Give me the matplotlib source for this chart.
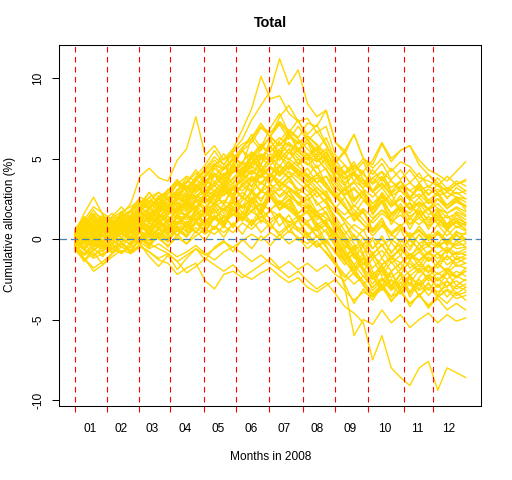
import matplotlib
matplotlib.use("Agg")
import matplotlib.pyplot as plt

# -----------------------------
# Data: cumulative allocation (%),
# one value every 6 trading days (day 1 .. 253)
# -----------------------------
days = list(range(1, 254, 6))

month_labels = ["01", "02", "03", "04", "05", "06", "07", "08", "09", "10", "11", "12"]
month_starts = [1, 22, 42, 62, 84, 105, 126, 148, 169, 190, 213, 232]
last_day = 253

s01 = [0.2, 0.9, 1.5, 1.1, 0.8, 1.3, 1.8, 2.6, 2.3, 2.9, 2.5, 3.4, 3.9, 3.6, 4.4, 5.1, 4.6, 5.5, 6.2, 7.4, 8.3, 9.2, 11.2, 9.6, 10.5, 8.4, 7.6, 8.0, 6.0, 5.3, 6.5, 5.0, 4.6, 5.9, 4.8, 5.5, 5.8, 4.9, 4.3, 4.0, 3.6, 4.2, 4.8]
s02 = [0.1, 0.6, 1.2, 0.9, 0.7, 1.1, 1.4, 1.9, 2.4, 2.1, 2.6, 3.0, 3.5, 4.1, 3.8, 4.6, 5.0, 5.6, 6.8, 8.1, 10.1, 8.7, 8.9, 7.8, 7.3, 7.5, 6.6, 7.0, 5.2, 4.6, 4.0, 3.4, 3.0, 3.5, 2.8, 3.3, 3.0, 2.6, 3.1, 2.7, 2.9, 3.4, 3.7]
s03 = [-0.2, 0.5, 1.0, 1.4, 1.0, 1.5, 2.2, 3.9, 4.4, 3.8, 3.6, 4.9, 5.6, 7.6, 5.2, 5.8, 4.9, 5.4, 5.9, 6.2, 5.5, 6.4, 5.8, 6.6, 5.5, 5.0, 5.6, 4.8, 4.2, 3.5, 4.0, 3.1, 2.6, 3.2, 2.4, 1.8, 2.2, 1.5, 1.9, 1.2, 0.8, 1.1, 0.6]
s04 = [0.3, 0.8, 0.5, 1.0, 0.8, 1.2, 1.0, 1.6, 1.4, 2.0, 1.8, 2.6, 2.4, 3.1, 3.6, 3.3, 4.0, 4.5, 4.2, 5.0, 5.8, 5.4, 6.1, 6.8, 6.3, 7.2, 7.0, 8.0, 6.0, 5.5, 6.5, 5.0, 4.4, 5.0, 4.2, 4.8, 4.5, 3.8, 3.6, 3.3, 3.0, 3.4, 3.0]
s05 = [0.0, 0.4, 0.9, 0.6, 0.3, 0.8, 1.1, 1.5, 1.9, 1.6, 2.1, 2.5, 2.2, 2.9, 3.3, 3.0, 3.6, 3.2, 3.9, 4.5, 4.1, 4.8, 5.3, 4.9, 5.6, 5.2, 4.8, 5.4, 4.6, 4.0, 4.5, 4.2, 4.9, 6.0, 5.0, 5.5, 5.8, 4.6, 4.0, 3.5, 2.9, 2.6, 2.5]
s06 = [0.4, 1.2, 2.0, 1.6, 1.2, 1.5, 1.3, 2.0, 2.6, 2.9, 2.4, 3.0, 3.6, 3.3, 4.0, 4.6, 4.3, 4.9, 5.5, 6.0, 6.9, 6.4, 7.2, 6.5, 6.0, 6.4, 5.8, 5.1, 4.5, 3.8, 4.2, 3.6, 2.9, 3.4, 2.7, 3.0, 2.4, 2.8, 2.2, 2.5, 1.9, 2.3, 2.0]
s07 = [-0.3, 0.3, 0.7, 0.2, 0.5, 0.9, 0.6, 1.2, 1.6, 1.3, 1.9, 2.3, 2.0, 2.7, 3.1, 2.6, 3.3, 3.8, 4.4, 4.0, 4.7, 5.3, 4.9, 5.6, 5.0, 4.6, 5.1, 4.3, 3.6, 2.8, 3.2, 2.5, 1.8, 2.4, 1.6, 2.0, 1.4, 1.8, 1.2, 1.5, 0.9, 1.3, 1.0]
s08 = [0.5, 1.0, 0.7, 1.2, 0.9, 1.4, 1.7, 2.2, 1.9, 2.5, 2.8, 3.4, 3.0, 3.7, 4.2, 3.9, 4.5, 4.1, 4.8, 5.4, 5.0, 5.7, 6.3, 5.8, 5.2, 4.7, 4.1, 3.5, 2.6, 2.0, 1.4, 0.9, 0.2, 0.8, 0.3, -0.2, 0.4, -0.3, 0.1, -0.4, -0.1, -0.6, -0.5]
s09 = [-0.1, 0.2, -0.3, 0.4, 0.6, 0.3, 0.8, 1.1, 0.8, 1.4, 1.2, 1.8, 2.3, 2.0, 2.6, 3.0, 2.7, 3.2, 3.7, 3.3, 4.0, 4.5, 4.2, 4.8, 4.3, 3.8, 3.2, 2.7, 1.9, 1.2, 0.6, 0.1, -0.6, 0.0, -0.8, -0.3, -1.0, -0.6, -1.3, -0.9, -1.6, -1.2, -1.5]
s10 = [0.2, -0.3, 0.1, 0.5, 0.2, 0.6, 0.9, 1.3, 1.0, 1.5, 1.2, 1.7, 1.4, 2.0, 2.5, 2.1, 2.8, 3.2, 3.6, 4.2, 3.8, 4.4, 3.9, 4.5, 4.0, 3.3, 2.9, 2.2, 1.4, 0.5, -0.3, -1.0, -1.8, -1.2, -2.0, -1.5, -2.3, -1.8, -2.6, -2.1, -2.5, -2.0, -2.3]
s11 = [-0.4, -0.9, -0.5, -0.2, 0.3, 0.1, 0.5, 0.9, 1.3, 0.9, 1.5, 1.9, 2.4, 2.0, 2.7, 3.3, 2.9, 3.5, 4.1, 3.6, 4.3, 3.9, 4.6, 4.1, 3.5, 3.0, 2.3, 1.6, 0.8, -0.2, -1.1, -1.8, -2.5, -2.0, -2.9, -3.4, -2.8, -3.5, -3.0, -3.6, -3.1, -3.5, -3.3]
s12 = [0.1, 0.5, 0.2, -0.2, 0.3, 0.7, 0.4, 0.9, 1.4, 1.1, 1.6, 2.0, 1.7, 2.3, 2.8, 2.4, 3.0, 2.6, 3.3, 3.8, 3.4, 4.0, 3.5, 3.1, 2.6, 2.0, 1.5, 0.8, 0.0, -1.0, -2.0, -2.6, -3.4, -2.8, -3.6, -3.2, -4.0, -3.5, -4.2, -3.7, -4.4, -4.0, -4.4]
s13 = [-0.6, -1.0, -0.7, -0.3, -0.6, -0.2, 0.1, 0.5, 0.2, 0.7, 0.4, 0.9, 1.4, 1.1, 1.6, 1.2, 1.9, 2.3, 1.9, 2.5, 3.0, 2.6, 2.2, 1.8, 1.3, 0.8, 0.2, -0.5, -1.3, -3.0, -6.0, -5.0, -5.3, -4.4, -5.2, -4.7, -5.5, -5.0, -4.6, -5.2, -4.7, -5.1, -4.9]
s14 = [-0.3, -0.6, -1.0, -0.7, -0.4, -0.8, -0.5, -0.2, -0.6, -0.3, -0.7, -1.1, -0.8, -0.4, -0.9, -1.3, -0.8, -0.5, -0.9, -1.4, -1.0, -1.5, -1.9, -2.4, -2.0, -2.6, -3.1, -2.7, -3.4, -4.2, -4.6, -5.2, -7.5, -6.0, -8.0, -8.6, -9.1, -8.0, -7.6, -9.4, -8.0, -8.3, -8.6]
s15 = [-0.5, -1.2, -2.0, -1.6, -1.1, -0.7, -0.9, -0.5, -0.8, -1.3, -1.5, -2.2, -1.8, -1.5, -2.6, -3.1, -2.2, -2.0, -2.4, -2.0, -1.6, -1.2, -1.8, -1.4, -1.9, -1.5, -2.0, -1.6, -2.2, -2.6, -2.1, -2.8, -2.3, -3.0, -2.5, -3.1, -2.7, -3.2, -2.8, -3.3, -2.9, -2.6, -3.0]
s16 = [-0.2, -0.7, -1.2, -0.9, -0.6, -0.9, -0.4, 0.1, -0.3, -0.6, -0.9, -1.4, -2.1, -1.7, -1.2, -1.6, -2.0, -1.6, -2.2, -2.5, -2.1, -1.8, -2.3, -2.7, -2.4, -3.0, -3.3, -2.9, -2.5, -3.2, -3.8, -3.3, -3.6, -3.1, -2.6, -3.0, -2.4, -2.8, -2.2, -2.6, -2.1, -2.4, -2.0]
s17 = [0.1, 0.4, 0.0, 0.3, 0.0, 0.4, 0.7, 1.0, 0.6, 1.1, 0.8, 1.3, 1.0, 1.5, 1.9, 1.6, 2.1, 1.8, 2.4, 2.9, 2.5, 3.1, 2.7, 3.2, 2.8, 2.4, 2.9, 2.3, 1.7, 1.2, 1.6, 0.9, 0.4, 0.9, 0.3, 0.7, 0.1, 0.5, -0.1, 0.3, -0.2, 0.2, 0.0]
s18 = [-0.4, 0.0, 0.5, 0.2, -0.1, 0.3, 0.1, 0.6, 1.0, 0.7, 1.1, 1.5, 1.2, 1.7, 1.4, 2.0, 2.4, 2.0, 2.6, 2.2, 2.9, 3.4, 3.0, 3.6, 3.1, 2.7, 3.2, 2.6, 2.0, 1.5, 2.1, 1.6, 1.0, 1.6, 1.1, 1.5, 0.9, 1.3, 0.8, 1.2, 0.7, 1.0, 0.6]
s19 = [0.3, 0.7, 1.1, 0.8, 0.5, 0.9, 1.2, 1.6, 1.3, 1.8, 2.1, 1.8, 2.3, 2.0, 2.6, 3.0, 2.7, 3.3, 3.0, 3.6, 4.0, 3.6, 4.2, 3.8, 4.3, 3.9, 3.5, 3.9, 3.2, 2.7, 3.1, 2.5, 2.0, 2.6, 2.1, 2.5, 1.9, 2.3, 1.8, 2.2, 1.6, 2.0, 1.7]
s20 = [-0.1, -0.5, -0.2, 0.2, -0.1, 0.3, 0.0, 0.4, 0.1, 0.6, 0.3, 0.8, 0.5, 1.1, 0.8, 1.3, 1.0, 1.5, 1.2, 1.8, 2.2, 1.8, 2.3, 1.9, 1.5, 1.1, 1.5, 0.9, 0.3, -0.4, -0.9, -1.5, -1.0, -1.6, -1.1, -1.5, -0.9, -1.3, -0.8, -1.2, -0.7, -1.0, -0.8]
s21 = [0.2, 0.8, 1.3, 1.0, 1.3, 1.7, 2.0, 2.4, 2.0, 2.6, 3.0, 3.6, 3.2, 3.8, 4.3, 4.9, 4.4, 5.0, 5.7, 6.2, 7.0, 6.6, 7.3, 6.7, 6.2, 5.6, 5.0, 4.3, 3.4, 2.6, 1.8, 1.2, 0.5, 1.1, 0.4, 0.9, 0.2, 0.6, 0.0, 0.5, -0.1, 0.4, 0.3]
s22 = [0.0, -0.3, 0.2, -0.1, 0.3, 0.6, 0.3, 0.7, 0.4, 0.9, 0.5, 1.0, 1.5, 1.2, 1.8, 2.2, 1.8, 2.4, 2.0, 2.5, 2.1, 2.6, 2.2, 2.7, 2.3, 1.9, 1.4, 1.0, 0.4, -0.2, -0.7, -0.3, -0.9, -0.4, -1.1, -0.6, -1.3, -0.8, -1.4, -0.9, -1.3, -0.8, -1.0]
s23 = [-0.2, 0.2, -0.1, 0.3, 0.1, 0.5, 0.8, 0.5, 1.0, 0.7, 1.2, 0.9, 1.4, 1.1, 1.7, 1.3, 1.9, 1.5, 2.1, 1.7, 2.2, 1.8, 2.4, 2.0, 1.6, 2.1, 1.7, 1.3, 0.8, 0.3, 0.9, 0.5, 1.2, 1.8, 1.4, 2.0, 1.6, 2.3, 1.9, 2.5, 2.1, 2.6, 2.3]
s24 = [0.3, 0.9, 0.6, 1.1, 0.7, 1.0, 1.4, 1.8, 2.3, 2.0, 2.5, 2.9, 2.5, 3.2, 3.7, 3.3, 3.9, 4.4, 4.0, 4.7, 5.2, 4.8, 5.5, 5.0, 4.5, 4.0, 3.5, 2.8, 1.9, 1.0, 0.2, -0.5, -1.2, -0.7, -1.5, -1.0, -1.8, -1.4, -2.0, -1.5, -2.1, -1.6, -1.8]
s25 = [-0.3, 0.1, -0.2, -0.6, -0.3, 0.0, -0.3, 0.2, -0.1, 0.4, 0.1, 0.5, 0.2, 0.7, 0.3, 0.8, 0.4, 0.9, 1.3, 0.9, 1.4, 1.0, 1.5, 1.1, 0.7, 0.2, -0.3, -0.8, -1.5, -2.2, -2.8, -2.3, -3.0, -2.5, -3.2, -2.7, -2.3, -2.9, -2.4, -3.0, -2.6, -3.1, -2.8]
s26 = [0.1, 0.6, 0.3, 0.8, 0.5, 0.9, 1.2, 1.7, 2.2, 1.8, 2.3, 2.8, 3.3, 2.9, 3.5, 4.0, 3.6, 4.2, 4.8, 4.4, 5.1, 5.7, 5.2, 5.9, 5.4, 4.9, 5.3, 4.6, 3.8, 3.0, 3.5, 2.8, 2.2, 2.7, 2.0, 2.5, 1.8, 2.2, 1.5, 1.9, 1.3, 1.6, 1.2]
s27 = [-0.5, -0.1, -0.6, -1.0, -0.6, -0.2, 0.1, -0.2, 0.3, 0.0, -0.4, 0.1, -0.3, 0.2, 0.6, 0.3, 0.8, 0.4, 1.0, 0.6, 1.2, 0.8, 0.4, 0.9, 0.5, 0.0, -0.5, -0.1, -0.8, -1.4, -2.0, -1.5, -2.2, -1.7, -2.4, -1.9, -1.5, -2.1, -1.6, -2.2, -1.8, -2.3, -2.0]
s28 = [-0.1, 0.3, 0.8, 0.5, 0.9, 0.6, 1.0, 1.4, 1.1, 1.7, 2.1, 1.7, 2.3, 2.7, 2.3, 2.9, 3.4, 3.0, 3.7, 4.3, 3.9, 4.5, 4.0, 4.6, 4.1, 3.6, 4.0, 3.4, 2.7, 2.0, 1.4, 1.9, 1.3, 1.8, 1.2, 0.8, 1.3, 0.9, 1.4, 1.0, 0.6, 1.1, 0.9]
s29 = [0.4, 0.0, 0.5, 0.2, 0.6, 0.3, 0.7, 1.1, 0.7, 1.3, 1.6, 2.2, 1.8, 2.4, 2.0, 2.6, 3.1, 2.7, 3.3, 2.9, 3.5, 3.1, 3.6, 3.2, 2.7, 2.2, 1.6, 1.0, 0.2, -0.8, -1.6, -2.3, -3.0, -2.4, -3.1, -2.5, -2.0, -1.6, -2.1, -1.5, -1.1, -1.5, -1.2]
s30 = [0.2, 0.6, 1.0, 0.7, 0.4, 0.8, 1.1, 1.5, 1.9, 1.6, 2.0, 2.4, 2.8, 2.5, 3.0, 3.5, 3.1, 3.7, 4.2, 4.8, 5.3, 4.9, 5.6, 6.0, 5.5, 6.0, 5.4, 5.0, 4.3, 3.7, 4.1, 3.4, 3.8, 3.2, 3.6, 3.1, 3.5, 3.0, 3.3, 2.9, 3.2, 2.8, 3.0]
s31 = [-0.2, 0.1, -0.4, 0.0, -0.3, 0.1, 0.4, 0.8, 0.5, 1.0, 0.7, 1.1, 0.8, 1.3, 1.0, 1.4, 1.1, 1.6, 1.2, 1.7, 1.3, 1.8, 1.4, 1.0, 1.4, 0.9, 0.5, 0.9, 0.3, -0.2, 0.2, -0.3, 0.1, -0.4, 0.0, -0.5, -0.1, -0.6, -0.2, -0.5, -0.1, -0.4, -0.3]
s32 = [0.1, 0.5, 0.2, 0.7, 0.4, 0.8, 1.2, 1.6, 1.3, 1.9, 2.3, 2.9, 2.5, 3.1, 3.6, 4.1, 3.7, 4.3, 3.9, 4.6, 5.0, 4.6, 5.1, 4.7, 4.2, 3.6, 3.0, 2.2, 1.2, 0.2, -1.0, -2.0, -3.2, -2.6, -2.0, -1.5, -1.0, -1.4, -0.8, -0.4, -0.8, -0.3, 0.0]
s33 = [-0.7, -1.2, -1.8, -1.4, -0.9, -0.5, -0.8, -0.4, -0.8, -1.2, -0.9, -1.4, -1.0, -0.6, -1.0, -0.6, -0.2, -0.5, -0.1, 0.3, -0.1, 0.4, 0.0, 0.5, 0.1, -0.3, 0.2, -0.2, -0.7, -1.3, -0.9, -1.5, -1.0, -1.6, -1.1, -0.7, -1.2, -0.8, -0.4, -0.9, -0.5, -0.9, -0.6]
s34 = [0.0, 0.5, 0.9, 0.6, 1.0, 1.3, 0.9, 1.3, 1.7, 1.4, 1.9, 2.2, 1.9, 2.5, 2.2, 2.8, 3.2, 2.8, 3.4, 3.9, 3.5, 4.1, 3.6, 4.2, 3.8, 3.3, 3.8, 3.2, 2.6, 3.1, 3.6, 3.2, 3.8, 4.2, 3.6, 3.0, 2.5, 2.0, 2.4, 1.9, 1.6, 1.9, 1.5]
s35 = [0.3, -0.2, 0.2, 0.6, 0.3, 0.7, 0.4, 0.9, 0.5, 1.0, 1.4, 1.0, 1.6, 2.0, 1.6, 2.2, 1.8, 2.4, 2.9, 2.4, 3.0, 2.6, 3.2, 2.7, 2.2, 1.6, 1.0, 0.4, -0.4, -1.3, -2.2, -2.8, -3.5, -3.0, -3.8, -3.3, -4.0, -3.5, -4.1, -3.6, -3.2, -3.7, -3.5]
s36 = [0.5, 1.1, 1.6, 1.3, 1.0, 1.4, 1.8, 2.3, 2.0, 2.6, 3.0, 3.5, 3.1, 3.7, 4.2, 4.7, 4.3, 4.9, 5.5, 5.0, 5.7, 6.3, 5.8, 6.4, 5.9, 6.4, 5.9, 5.3, 4.6, 4.1, 4.6, 4.0, 3.4, 3.9, 3.2, 3.6, 3.0, 3.4, 2.8, 3.1, 2.6, 2.9, 2.5]
s37 = [0.6, 1.4, 0.5, 1.3, 0.4, 1.2, 0.7, 1.9, 1.0, 2.2, 1.5, 2.8, 2.0, 3.4, 2.6, 4.0, 3.2, 4.6, 3.8, 5.4, 4.6, 6.2, 5.1, 6.6, 5.5, 6.0, 4.8, 5.2, 3.6, 4.2, 2.5, 3.0, 1.6, 2.4, 1.2, 2.0, 0.9, 1.7, 0.6, 1.4, 0.5, 1.2, 0.8]
s38 = [-0.6, -1.4, -0.8, -1.6, -0.9, -0.3, -0.8, 0.0, -0.5, 0.3, -0.2, 0.6, 0.1, 1.0, 0.4, 1.3, 0.7, 1.8, 1.1, 2.3, 1.5, 2.6, 1.8, 2.2, 1.2, 1.7, 0.6, 0.9, -0.3, -1.2, -0.6, -1.9, -2.8, -1.9, -3.0, -2.2, -3.3, -2.4, -1.7, -2.6, -1.9, -2.4, -1.8]
s39 = [0.4, 1.6, 2.6, 1.5, 0.8, 1.7, 1.0, 2.0, 2.9, 2.2, 3.1, 2.4, 3.5, 4.3, 3.4, 4.5, 5.3, 4.4, 5.6, 6.5, 5.7, 6.9, 7.8, 6.6, 7.4, 6.2, 5.5, 6.3, 4.9, 4.1, 4.8, 3.7, 3.0, 3.8, 2.9, 3.6, 2.6, 3.3, 2.4, 2.9, 2.1, 2.6, 1.8]
s40 = [-0.2, 0.6, -0.4, 0.5, -0.3, 0.7, 0.0, 0.9, 0.2, 1.1, 0.3, 1.4, 0.6, 1.8, 0.9, 2.1, 1.3, 2.5, 1.6, 2.9, 1.9, 3.1, 2.2, 2.7, 1.6, 2.0, 0.9, 1.2, -0.2, -1.0, -2.0, -1.2, -2.4, -3.2, -2.1, -3.0, -2.2, -3.1, -2.3, -3.0, -2.1, -2.9, -2.5]
s41 = [0.3, 1.0, 1.8, 1.1, 1.6, 0.9, 1.5, 2.4, 1.8, 2.7, 2.1, 3.0, 3.8, 3.0, 3.9, 4.6, 3.8, 4.7, 5.5, 4.6, 5.6, 6.4, 7.1, 6.2, 7.0, 6.1, 6.7, 5.8, 4.7, 5.4, 4.3, 5.0, 4.0, 4.7, 3.7, 4.3, 3.5, 4.1, 3.2, 3.8, 3.1, 3.6, 3.3]
s42 = [-0.4, -1.3, -0.6, -1.1, -0.3, -0.9, -0.2, 0.4, -0.3, 0.6, 0.0, 0.8, 0.2, 1.2, 0.5, 1.5, 0.8, 2.0, 1.2, 2.4, 1.5, 2.8, 1.9, 2.5, 1.6, 2.1, 1.2, 1.6, 0.5, 1.0, -0.1, 0.6, -0.6, 0.2, -0.9, 0.0, -0.7, 0.3, -0.5, 0.4, -0.4, 0.3, -0.2]
s43 = [0.2, 0.9, 0.3, 1.0, 0.4, 1.1, 0.6, 1.4, 2.0, 1.2, 2.1, 1.5, 2.5, 1.8, 2.9, 2.2, 3.5, 2.7, 4.1, 3.2, 4.6, 3.8, 5.2, 4.3, 5.0, 3.9, 4.6, 3.4, 2.5, 3.2, 2.0, 2.8, 1.5, 2.3, 0.9, 1.8, 0.6, 1.6, 0.8, 1.7, 0.7, 1.5, 1.0]
s44 = [0.1, -0.6, 0.4, -0.3, 0.5, 1.0, 0.4, 1.2, 0.6, 1.6, 0.9, 2.0, 1.4, 2.4, 1.7, 2.8, 2.1, 3.2, 2.5, 3.7, 2.9, 4.0, 3.2, 3.8, 2.8, 3.3, 2.1, 2.5, 1.0, 0.0, -1.2, -0.4, -2.0, -2.9, -2.0, -3.4, -2.4, -3.6, -2.7, -3.5, -2.6, -3.4, -3.0]
s45 = [0.0, -0.7, 0.2, -0.5, 0.3, -0.2, 0.5, -0.1, 0.7, 0.1, 0.9, 0.2, 1.1, 0.4, 1.3, 0.6, 1.5, 0.7, 1.6, 0.8, 1.7, 0.6, 1.5, 0.4, 1.2, 0.1, 0.9, -0.2, 0.6, -0.6, 0.3, -0.9, 0.0, -1.2, -0.2, -1.0, 0.1, -0.7, 0.3, -0.4, 0.6, -0.1, 0.4]
s46 = [0.5, 1.3, 0.7, 1.5, 0.8, 1.6, 1.1, 2.0, 1.5, 2.5, 2.0, 3.1, 2.6, 3.7, 3.2, 4.4, 3.8, 5.2, 4.6, 6.3, 7.2, 6.3, 7.6, 8.3, 7.3, 6.5, 7.1, 5.9, 4.8, 5.5, 4.1, 4.8, 3.5, 4.2, 2.9, 3.6, 2.5, 3.2, 2.2, 2.8, 1.9, 2.5, 2.0]
s47 = [-0.3, 0.4, -0.5, 0.2, -0.6, 0.1, -0.4, 0.5, -0.1, 0.8, 0.2, 1.1, 0.4, 1.5, 0.7, 1.9, 1.0, 2.3, 1.3, 2.6, 1.6, 2.9, 1.8, 2.4, 1.3, 1.8, 0.7, 1.1, 0.0, -0.9, -1.8, -1.1, -2.5, -1.7, -3.0, -2.1, -2.8, -1.9, -2.4, -1.5, -2.0, -1.1, -1.2]
s48 = [0.2, 0.8, 1.4, 0.7, 1.2, 0.6, 1.3, 1.8, 1.2, 2.0, 2.6, 2.0, 2.8, 3.3, 2.7, 3.5, 4.1, 3.4, 4.3, 5.0, 4.2, 5.1, 4.5, 5.4, 4.7, 5.3, 4.4, 5.0, 3.9, 3.3, 4.1, 3.4, 4.3, 3.6, 4.4, 3.7, 4.3, 3.5, 4.0, 3.3, 3.9, 3.4, 3.6]
s49 = [-0.5, 0.2, -0.7, -0.1, -0.8, -0.2, -0.9, -0.3, -1.1, -1.7, -1.0, -1.9, -1.2, -0.6, -1.3, -0.5, -0.1, -0.8, 0.0, -0.6, 0.2, -0.4, 0.3, -0.3, 0.1, -0.6, -0.1, -0.9, -1.6, -2.4, -1.7, -2.9, -3.6, -2.8, -3.9, -3.1, -4.2, -3.4, -4.3, -3.5, -4.0, -3.3, -3.8]
s50 = [0.4, -0.2, 0.6, 1.2, 0.5, 1.1, 1.7, 1.0, 1.9, 2.5, 1.8, 2.7, 3.3, 2.5, 3.4, 4.0, 3.2, 4.2, 4.8, 4.0, 5.0, 5.8, 4.9, 5.6, 4.6, 5.1, 4.0, 4.4, 3.0, 2.2, 1.1, 1.7, 0.5, 1.1, -0.2, 0.6, -0.5, 0.3, -0.4, 0.4, -0.3, 0.5, 0.0]
s51 = [-0.2, 0.5, -0.3, 0.6, -0.1, 0.7, 0.1, 0.9, 0.3, 1.2, 0.5, 1.4, 0.7, 1.7, 0.9, 1.8, 1.1, 2.0, 1.2, 2.1, 1.0, 1.8, 0.8, 1.5, 0.5, 1.1, 0.1, 0.6, -0.5, -1.2, -0.4, -1.6, -0.8, -2.0, -1.1, -1.9, -0.9, -1.7, -0.8, -1.5, -0.6, -1.3, -1.0]
s52 = [0.0, 0.7, -0.1, 0.8, 0.2, 1.0, 0.4, 1.3, 0.7, 1.6, 1.0, 2.0, 1.4, 2.4, 1.8, 2.8, 2.2, 3.3, 2.6, 3.7, 3.0, 4.0, 3.3, 3.9, 3.0, 3.4, 2.6, 3.0, 1.9, 2.6, 1.5, 2.4, 1.8, 2.9, 2.2, 3.3, 2.5, 3.5, 2.7, 3.4, 2.5, 3.2, 2.8]
s53 = [-0.3, -1.0, -0.2, -0.8, 0.0, -0.5, 0.2, -0.3, 0.5, 0.0, 0.7, 0.2, 0.9, 0.4, 1.2, 0.6, 1.4, 0.8, 1.7, 1.0, 1.9, 1.2, 1.6, 0.8, 1.2, 0.3, 0.6, -0.4, -1.5, -2.8, -4.0, -3.1, -3.8, -2.9, -3.6, -2.7, -3.4, -2.5, -3.2, -2.4, -3.0, -2.3, -2.6]
s54 = [0.3, 1.1, 0.4, 1.2, 0.6, 1.4, 0.9, 1.8, 1.2, 2.3, 1.7, 2.8, 2.2, 3.4, 2.8, 4.0, 3.4, 4.7, 4.0, 5.4, 4.6, 6.1, 5.3, 6.5, 5.6, 6.2, 5.1, 5.6, 4.2, 3.4, 2.4, 3.0, 1.9, 2.6, 1.5, 2.2, 1.2, 2.0, 1.0, 1.8, 0.9, 1.7, 1.4]
s55 = [0.2, -0.5, 0.1, -0.6, 0.0, 0.5, -0.2, 0.4, -0.4, 0.2, -0.5, 0.3, -0.3, 0.5, -0.1, 0.8, 0.1, 1.0, 0.3, 1.2, 0.4, 1.0, 0.2, 0.8, -0.1, 0.4, -0.5, 0.0, -0.9, -1.6, -0.8, -2.0, -1.2, -2.3, -1.4, -2.2, -1.3, -2.0, -1.1, -1.8, -1.0, -1.7, -1.5]
s56 = [0.1, 0.8, 1.5, 0.8, 1.4, 2.0, 1.3, 2.2, 2.9, 2.1, 3.0, 3.7, 2.9, 3.9, 4.6, 5.5, 4.6, 5.3, 4.4, 5.2, 4.3, 5.0, 4.1, 4.8, 3.9, 4.4, 3.5, 3.9, 2.8, 2.0, 1.2, 1.8, 0.6, 1.3, 0.2, 0.9, 0.0, 0.8, 0.1, 0.9, 0.2, 0.8, 0.5]
s57 = [0.0, 0.6, -0.2, 0.5, -0.1, 0.6, 0.1, 0.9, 0.3, 1.1, 0.6, 1.5, 0.9, 1.9, 1.3, 2.3, 1.6, 2.7, 2.0, 3.1, 2.3, 3.4, 2.6, 3.0, 2.1, 2.5, 1.4, 1.7, 0.5, -0.6, -1.6, -0.9, -2.3, -1.6, -2.9, -2.2, -3.6, -2.7, -3.5, -2.8, -3.6, -2.9, -3.2]
s58 = [-0.1, 0.5, 1.2, 0.6, 1.1, 0.5, 1.2, 0.7, 1.5, 1.0, 1.8, 1.3, 2.2, 1.7, 2.6, 2.1, 3.0, 2.5, 3.5, 3.0, 4.0, 3.4, 4.5, 3.8, 4.3, 3.5, 4.0, 3.2, 2.5, 3.1, 2.3, 3.0, 2.2, 2.8, 2.0, 2.7, 1.9, 2.6, 1.8, 2.5, 1.9, 2.4, 2.1]
s59 = [-0.8, -0.2, -1.1, -0.4, -0.9, -0.2, -0.7, 0.1, -0.4, 0.4, -0.1, 0.7, 0.2, 1.0, 0.5, 1.4, 0.9, 1.8, 1.3, 2.3, 1.7, 2.8, 2.1, 3.0, 2.2, 2.7, 1.7, 2.0, 0.9, 0.2, -0.6, 0.1, -1.0, -0.3, -1.3, -0.5, -1.2, -0.3, -1.0, -0.2, -0.9, -0.1, -0.5]
s60 = [0.6, 1.3, 0.7, 1.4, 0.9, 1.6, 1.1, 1.9, 2.6, 1.9, 2.8, 3.4, 2.7, 3.6, 4.2, 3.5, 4.4, 5.0, 4.2, 5.2, 5.9, 5.0, 6.0, 5.3, 6.1, 5.2, 5.7, 4.8, 4.0, 4.6, 3.6, 4.2, 3.0, 2.2, 2.8, 1.7, 2.3, 1.3, 1.9, 0.9, 1.5, 0.7, 1.0]

series = [s01, s02, s03, s04, s05, s06, s07, s08, s09, s10, s11, s12,
          s13, s14, s15, s16, s17, s18, s19, s20, s21, s22, s23, s24,
          s25, s26, s27, s28, s29, s30, s31, s32, s33, s34, s35, s36,
          s37, s38, s39, s40, s41, s42, s43, s44, s45, s46, s47, s48,
          s49, s50, s51, s52, s53, s54, s55, s56, s57, s58, s59, s60]

# -----------------------------
# Plot
# -----------------------------
plt.rcParams["font.family"] = ["Liberation Sans", "DejaVu Sans"]

fig = plt.figure(figsize=(5.12, 4.8), dpi=100)
ax = fig.add_axes([59.3 / 512, 1 - 406 / 480, 422 / 512, 361.3 / 480])

for s in series:
    ax.plot(days[:len(s)], s, color="#FFD700", lw=1.0)

# month boundaries
for d in month_starts:
    ax.axvline(d, ymin=-0.017, ymax=1, color="red", lw=0.8,
               linestyle=(0, (5, 4)), clip_on=False)

ax.axhline(0, color="steelblue", lw=0.9, linestyle=(0, (6, 3)))

span = last_day - 1
ax.set_xlim(1 - 0.04 * span, last_day + 0.04 * span)
ax.set_ylim(-10.37, 12.07)

# month labels centred in each month
ends = month_starts[1:] + [last_day + 1]
mids = [(a + b - 1) / 2 - 0.5 for a, b in zip(month_starts, ends)]
ax.set_xticks(mids)
ax.set_xticklabels(month_labels, fontsize=8.6)
ax.tick_params(axis="x", length=0, pad=12)

ax.set_yticks([-10, -5, 0, 5, 10])
ax.set_yticklabels(["-10", "-5", "0", "5", "10"], fontsize=8.6)
ax.tick_params(axis="y", length=5, width=0.75, pad=6)
for lab in ax.get_yticklabels():
    lab.set_rotation(90)
    lab.set_va("center")

for sp in ax.spines.values():
    sp.set_linewidth(0.75)

cx = (59.3 + 481.3) / 2 / 512
fig.text(cx, 1 - 22.7 / 480, "Total", ha="center", va="center",
         fontsize=10.4, fontweight="bold")
fig.text(cx, 1 - 457 / 480, "Months in 2008", ha="center", va="center", fontsize=8.6)
fig.text(10 / 512, 1 - 224 / 480, "Cumulative allocation (%)", ha="center",
         va="center", rotation=90, fontsize=8.6)

fig.savefig("out.png", dpi=100, facecolor="white")
